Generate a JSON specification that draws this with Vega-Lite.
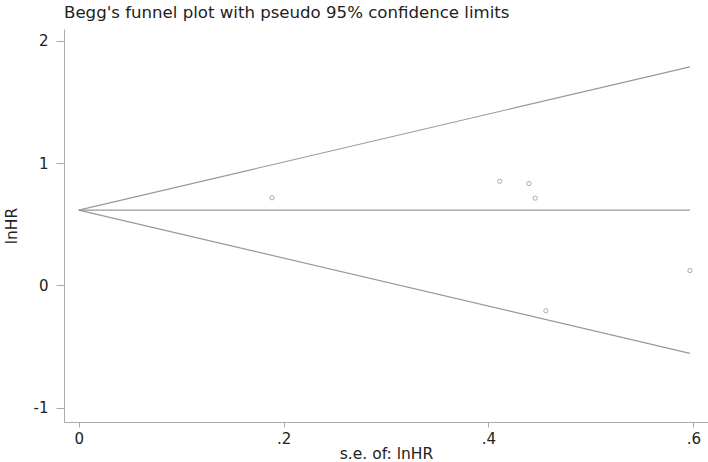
{
  "$schema": "https://vega.github.io/schema/vega-lite/v6.json",
  "autosize": {"type": "none"},
  "width": 644,
  "height": 393,
  "padding": {"left": 64, "top": 29, "right": 0, "bottom": 40},
  "background": "white",
  "config": {
    "font": "DejaVu Sans",
    "view": {"stroke": null},
    "axis": {"grid": false, "domainColor": "#aaaaaa", "tickColor": "#aaaaaa", "labelFont": "DejaVu Sans", "titleFont": "DejaVu Sans", "labelFontSize": 15, "titleFontSize": 15.5, "titleFontWeight": "normal", "labelColor": "#222222", "titleColor": "#222222"}
  },
  "title": {"text": "Begg's funnel plot with pseudo 95% confidence limits", "anchor": "start", "frame": "group", "offset": 7, "fontSize": 16.6, "fontWeight": "normal", "font": "DejaVu Sans", "color": "#222222"},
  "datasets": {
    "studies": [
      {"se": 0.1887, "lnhr": 0.716},
      {"se": 0.411, "lnhr": 0.851},
      {"se": 0.4395, "lnhr": 0.833},
      {"se": 0.4457, "lnhr": 0.713},
      {"se": 0.456, "lnhr": -0.207},
      {"se": 0.5967, "lnhr": 0.122}
    ],
    "limits": [
      {"line": "upper", "se": 0, "lnhr": 0.616},
      {"line": "upper", "se": 0.5967, "lnhr": 1.786},
      {"line": "pooled", "se": 0, "lnhr": 0.616},
      {"line": "pooled", "se": 0.5967, "lnhr": 0.616},
      {"line": "lower", "se": 0, "lnhr": 0.616},
      {"line": "lower", "se": 0.5967, "lnhr": -0.554}
    ]
  },
  "layer": [
    {
      "data": {"name": "limits"},
      "mark": {"type": "line", "color": "#999999", "strokeWidth": 1.2},
      "encoding": {
        "x": {"field": "se", "type": "quantitative", "scale": {"domain": [-0.01435, 0.6143], "nice": false, "zero": false},
          "axis": {"values": [0, 0.2, 0.4, 0.6], "title": "s.e. of: lnHR", "tickSize": 5, "labelPadding": 4, "titlePadding": 0,
            "labelExpr": "datum.value == 0 ? '0' : replace(format(datum.value, '.1f'), '0.', '.')"}},
        "y": {"field": "lnhr", "type": "quantitative", "scale": {"domain": [-1.115, 2.095], "nice": false, "zero": false},
          "axis": {"values": [-1, 0, 1, 2], "title": "lnHR", "tickSize": 8, "labelPadding": 8, "titlePadding": 14,
            "labelExpr": "datum.value < 0 ? '-' + abs(datum.value) : '' + datum.value"}},
        "detail": {"field": "line", "type": "nominal"}
      }
    },
    {
      "data": {"name": "studies"},
      "mark": {"type": "point", "shape": "circle", "filled": false, "color": "#888888", "size": 18, "strokeWidth": 1},
      "encoding": {
        "x": {"field": "se", "type": "quantitative"},
        "y": {"field": "lnhr", "type": "quantitative"}
      }
    }
  ]
}
